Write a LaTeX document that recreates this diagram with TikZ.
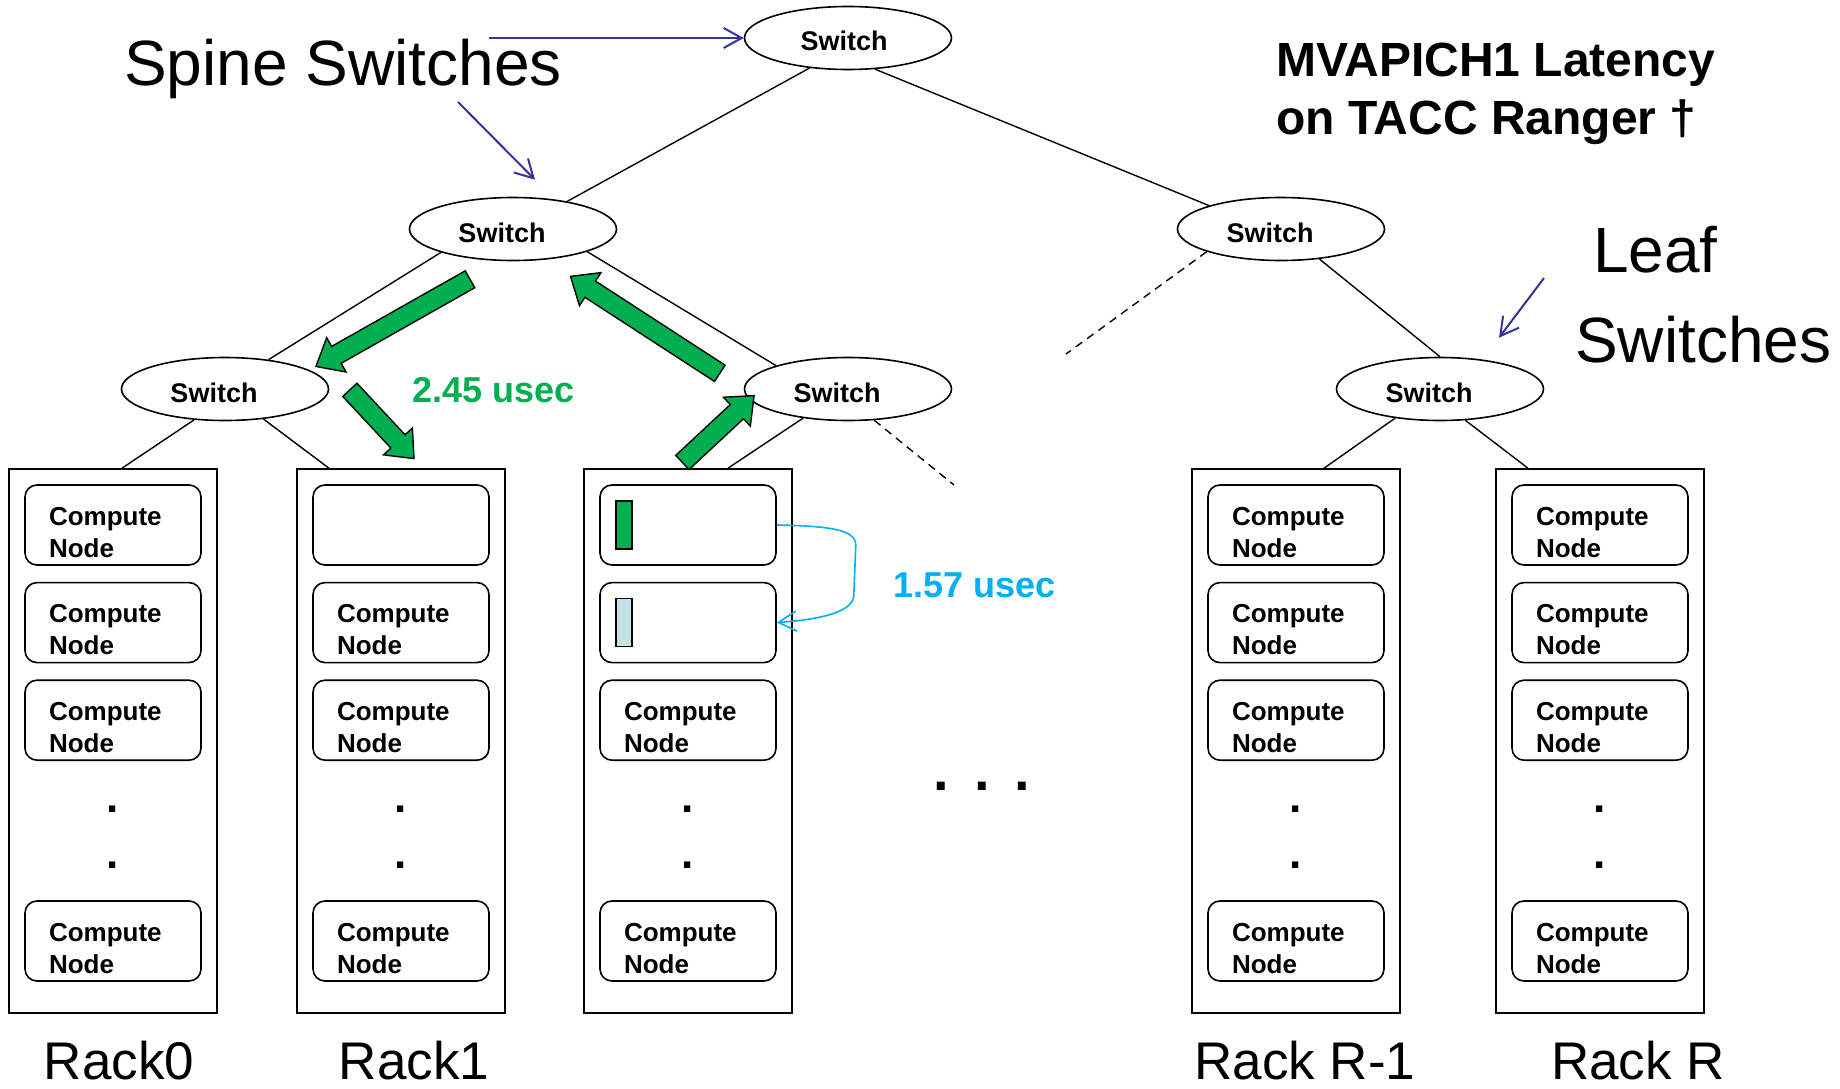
\documentclass[tikz,border=0pt]{standalone}
\usepackage{fontspec}
\setmainfont{Liberation Sans}
\usetikzlibrary{arrows.meta, positioning, shapes.geometric, shapes.arrows}
\definecolor{gruen}{HTML}{00B050}
\definecolor{hellblau}{HTML}{C3E2E4}
\definecolor{cyanblau}{HTML}{00B0F0}
\definecolor{navy}{HTML}{333399}

\begin{document}
\begin{tikzpicture}[
    x=1pt, y=-1pt,
    node distance = 16pt and 16pt,
    swbase/.style = {ellipse, draw, line width=1.6pt, minimum width=207pt, minimum height=63pt, inner sep=0pt, text height=26pt, text depth=0pt, font=\fontsize{27}{27}\selectfont\bfseries},
    sw/.style = {swbase, execute at end node={\hspace*{22pt}}},
    rack/.style = {rectangle, draw, line width=1.6pt, minimum width=208pt, minimum height=544pt, inner sep=0pt},
    cn/.style = {rectangle, draw, rounded corners=12pt, line width=1.6pt, minimum width=176pt, minimum height=80pt, inner xsep=24pt, inner ysep=0pt, text width=128pt, align=left, text height=30pt, text depth=30pt, font=\fontsize{26}{32}\selectfont\bfseries},
    buf/.style = {rectangle, draw, line width=1.4pt, minimum width=16pt, minimum height=48pt, inner sep=0pt},
    pkt/.style = {anchor=base, inner sep=0pt, font=\fontsize{44}{44}\selectfont\bfseries},
    big/.style = {anchor=base west, inner sep=0pt, font=\fontsize{64}{90}\selectfont},
    racklbl/.style = {anchor=base, inner sep=0pt, font=\fontsize{53}{53}\selectfont},
    usec/.style = {anchor=base west, inner sep=0pt, font=\fontsize{36}{36}\selectfont\bfseries},
    fat/.style = {single arrow, draw, line width=1.4pt, fill=gruen, inner xsep=0pt, inner ysep=9pt, single arrow head extend=10pt, single arrow tip angle=80},
    lin/.style = {line width=1.4pt},
    dsh/.style = {line width=1.4pt, dash pattern=on 8pt off 6pt},
    pil/.style = {navy, line width=2pt, -{Straight Barb[length=18pt,width=20pt]}},
    cpil/.style = {cyanblau, line width=1.6pt, -{Straight Barb[length=18pt,width=20pt]}}
    ]
  \useasboundingbox (0,0) rectangle (1840,1089);

  % switches
  \node[swbase, execute at end node={\hspace*{8pt}}] (top) at (848,38) {Switch} ;
  \node[sw] (spineL) at (513,229) {Switch} ;
  \node[sw] (spineR) at (1281,229) {Switch} ;
  \node[sw] (leafL) at (225,389) {Switch} ;
  \node[sw] (leaf2) at (848,389) {Switch} ;
  \node[sw] (leafR) at (1440,389) {Switch} ;

  % racks
  \node[rack] (rack0) at (113,741) {} ;
  \node[rack] (rack1) at (401,741) {} ;
  \node[rack] (rack2) at (688,741) {} ;
  \node[rack] (rackRm) at (1296,741) {} ;
  \node[rack] (rackR) at (1600,741) {} ;

  \node[cn] (a1) [below right=16pt and 16pt of rack0.north west] {Compute\\Node} ;
  \node[cn] (a2) [below=of a1] {Compute\\Node} ;
  \node[cn] (a3) [below=of a2] {Compute\\Node} ;
  \node[cn] (a4) [above right=32pt and 16pt of rack0.south west] {Compute\\Node} ;

  \node[cn] (b1) [below right=16pt and 16pt of rack1.north west] {} ;
  \node[cn] (b2) [below=of b1] {Compute\\Node} ;
  \node[cn] (b3) [below=of b2] {Compute\\Node} ;
  \node[cn] (b4) [above right=32pt and 16pt of rack1.south west] {Compute\\Node} ;

  \node[cn] (c1) [below right=16pt and 16pt of rack2.north west] {} ;
  \node[cn] (c2) [below=of c1] {} ;
  \node[cn] (c3) [below=of c2] {Compute\\Node} ;
  \node[cn] (c4) [above right=32pt and 16pt of rack2.south west] {Compute\\Node} ;
  \node[buf, fill=gruen] (sendbuf) [right=16pt of c1.west] {} ;
  \node[buf, fill=hellblau] (recvbuf) [right=16pt of c2.west] {} ;

  \node[cn] (d1) [below right=16pt and 16pt of rackRm.north west] {Compute\\Node} ;
  \node[cn] (d2) [below=of d1] {Compute\\Node} ;
  \node[cn] (d3) [below=of d2] {Compute\\Node} ;
  \node[cn] (d4) [above right=32pt and 16pt of rackRm.south west] {Compute\\Node} ;

  \node[cn] (e1) [below right=16pt and 16pt of rackR.north west] {Compute\\Node} ;
  \node[cn] (e2) [below=of e1] {Compute\\Node} ;
  \node[cn] (e3) [below=of e2] {Compute\\Node} ;
  \node[cn] (e4) [above right=32pt and 16pt of rackR.south west] {Compute\\Node} ;

  % dots
  \node[pkt] (a5) at (113,812) {.} ;
  \node[pkt] (a6) at (113,868) {.} ;
  \node[pkt] (b5) at (401,812) {.} ;
  \node[pkt] (b6) at (401,868) {.} ;
  \node[pkt] (c5) at (688,812) {.} ;
  \node[pkt] (c6) at (688,868) {.} ;
  \node[pkt] (d5) at (1296,812) {.} ;
  \node[pkt] (d6) at (1296,868) {.} ;
  \node[pkt] (e5) at (1600,812) {.} ;
  \node[pkt] (e6) at (1600,868) {.} ;
  \node[pkt, font=\fontsize{56}{56}\selectfont\bfseries] (mid) at (982,790) {.\hspace{25pt}.\hspace{25pt}.} ;

  % labels
  \node[racklbl] (l0) at (119,1079) {Rack0} ;
  \node[racklbl] (l1) at (414,1079) {Rack1} ;
  \node[racklbl] (lRm) at (1305,1079) {Rack R-1} ;
  \node[racklbl] (lR) at (1638,1079) {Rack R} ;
  \node[big] (spinetxt) at (124,86) {Spine Switches} ;
  \node[big, align=left] (leaftxt) at (1575,362) {\hspace*{18pt}Leaf\\Switches} ;
  \node[anchor=base west, inner sep=0pt, align=left, font=\fontsize{48}{58}\selectfont\bfseries] (titel) at (1276,135) {MVAPICH1 Latency\\on TACC Ranger †} ;
  \node[usec, text=gruen] (t245) at (412,402) {2.45 usec} ;
  \node[usec, text=cyanblau] (t157) at (893,597) {1.57 usec} ;

  % links
  \draw[lin] (top.218) -- (spineL.27)
  (top.311) -- (spineR.162)
  (spineL.198) -- (leafL.34)
  (spineL.343) -- (leaf2.162)
  (spineR.322) -- (leafR.north)
  (leafL.225) -- ([xshift=9pt]rack0.north)
  (leafL.322) -- ([xshift=-72pt]rack1.north)
  (leaf2.213) -- ([xshift=40pt]rack2.north)
  (leafR.213) -- ([xshift=28pt]rackRm.north)
  (leafR.309) -- ([xshift=-72pt]rackR.north);

  \coordinate (dL) at (1066,354) ;
  \coordinate (dR) at (954,485) ;
  \draw[dsh] (spineR.197) -- (dL)
  (leaf2.310) -- (dR);

  % green path
  \node[fat, minimum height=177pt, rotate=209.5] (g1) at (398,320) {} ;
  \node[fat, minimum height=94pt, rotate=-47] (g2) at (378,420) {} ;
  \node[fat, minimum height=98pt, rotate=43] (g3) at (714,433) {} ;
  \node[fat, minimum height=178pt, rotate=147] (g4) at (650,328) {} ;

  \draw[cpil] (c1.east) .. controls +(50,1) and +(0,-16) .. ++(79,20)
    -- ++(-2,50) .. controls +(0,18) and +(40,-3) .. (c2.east);

  % pointers
  \coordinate (p1) at (489,38) ;
  \coordinate (p2) at (458,102) ;
  \coordinate (p3) at (1544,278) ;
  \draw[pil] (p1) -- (top.west);
  \draw[pil] (p2) -- ([shift={(22,-17)}]spineL.north);
  \draw[pil] (p3) -- ([shift={(59,-19)}]leafR.north);
\end{tikzpicture}
\end{document}
